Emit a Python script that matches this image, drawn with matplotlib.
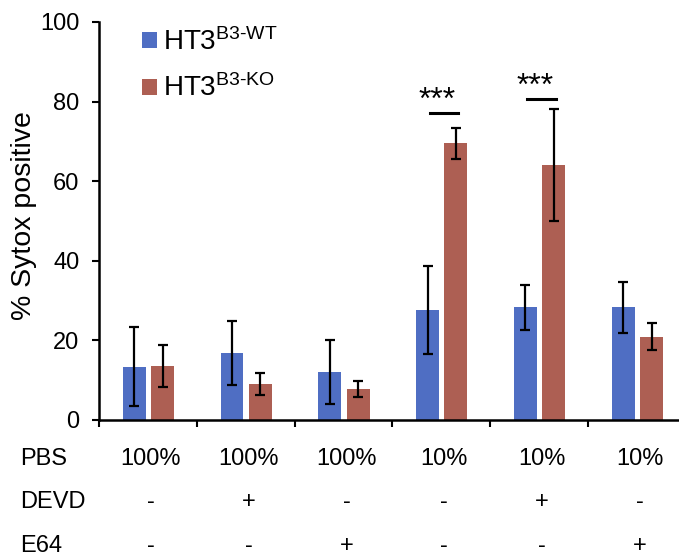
import numpy as np
import matplotlib
matplotlib.use("Agg")
import matplotlib.pyplot as plt
import matplotlib.transforms as mtransforms

plt.rcParams['font.family'] = ['Liberation Sans', 'DejaVu Sans']
plt.rcParams['mathtext.fontset'] = 'custom'
plt.rcParams['mathtext.rm'] = 'Liberation Sans'
plt.rcParams['mathtext.it'] = 'Liberation Sans'

# data
wt = [13.4, 16.9, 12.1, 27.6, 28.3, 28.3]
wt_err = [10.0, 8.1, 8.1, 11.0, 5.7, 6.4]
ko = [13.6, 9.0, 7.7, 69.5, 64.1, 20.9]
ko_err = [5.3, 2.7, 2.0, 3.8, 14.1, 3.4]

pbs = ['100%', '100%', '100%', '10%', '10%', '10%']
devd = ['-', '+', '-', '-', '+', '-']
e64 = ['-', '-', '+', '-', '-', '+']
row_names = ['PBS', 'DEVD', 'E64']

sig_groups = [3, 4]
sig_y = [77.2, 80.7]

blue = '#4F6EC3'
red = '#AD5F53'

fig = plt.figure(figsize=(6.79, 5.56), dpi=100)
ax = fig.add_axes([99 / 679, 1 - 420 / 556, 580 / 679, 398 / 556])

n = len(wt)
centers = np.arange(n) + 0.5
w = 0.235
ax.bar(centers - 0.14, wt, w, color=blue, label=r'HT3$^{\text{B3-WT}}$', zorder=2)
ax.bar(centers + 0.15, ko, w, color=red, label=r'HT3$^{\text{B3-KO}}$', zorder=2)
ekw = dict(fmt='none', ecolor='black', elinewidth=1.6, capsize=3.8, capthick=1.6, zorder=3)
ax.errorbar(centers - 0.14, wt, yerr=wt_err, **ekw)
ax.errorbar(centers + 0.15, ko, yerr=ko_err, **ekw)

# significance marks
for g, y in zip(sig_groups, sig_y):
    ax.plot([centers[g] - 0.12, centers[g] + 0.17], [y, y], color='black', lw=2.2)
    ax.text(centers[g] - 0.04, y + 1.0, '***', ha='center', va='baseline', fontsize=23)

ax.set_ylim(0, 100)
ax.set_xlim(0, 580 / 97.8)
ax.set_yticks(np.arange(0, 101, 20))
ax.set_xticks(np.arange(0, n))
ax.set_xticklabels([])
ax.tick_params(axis='y', labelsize=17, length=5, width=1.5, pad=9, direction='out')
ax.tick_params(axis='x', length=5, width=1.5, direction='out')
for s in ['top', 'right']:
    ax.spines[s].set_visible(False)
for s in ['left', 'bottom']:
    ax.spines[s].set_linewidth(1.8)

ax.set_ylabel('% Sytox positive', fontsize=20.5)
ax.yaxis.set_label_coords(-0.107, 0.513)

ax.legend(loc='upper left', bbox_to_anchor=(0.074, 0.985), frameon=False, fontsize=20,
          borderaxespad=0, borderpad=0, handlelength=0.55, handleheight=0.5,
          handletextpad=0.2, labelspacing=0.68)

# condition table under the axis
trans = mtransforms.blended_transform_factory(ax.transData, fig.transFigure)
baselines = [1 - 465 / 556, 1 - 508 / 556, 1 - 552 / 556]
for name, vals, yb in zip(row_names, [pbs, devd, e64], baselines):
    fig.text(20 / 679, yb, name, ha='left', va='baseline', fontsize=17)
    for c, v in zip(centers, vals):
        ax.text(c + 0.03, yb, v, transform=trans, ha='center', va='baseline', fontsize=17)

fig.savefig('out.png', dpi=100)
